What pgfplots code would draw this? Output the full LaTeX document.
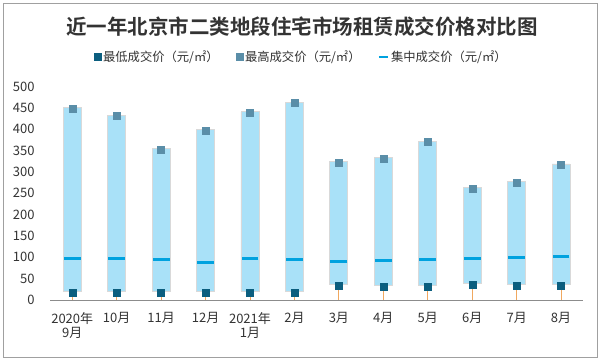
\documentclass[border=0pt]{standalone}
\usepackage{fontspec}
\setmainfont{Noto Sans CJK SC}[BoldFont={Noto Sans CJK SC Bold}]
\usepackage{pgfplots}
\usepackage{pgfplotstable}
\pgfplotsset{compat=1.18}
\definecolor{barblue}{HTML}{A9E1F8}
\definecolor{bargray}{HTML}{D9D9D9}
\definecolor{lowc}{HTML}{0B5E7F}
\definecolor{highc}{HTML}{5A8EA8}
\definecolor{midc}{HTML}{00A2DF}
\definecolor{orangec}{HTML}{F0A860}
\definecolor{axisgray}{HTML}{8C8C8C}
\definecolor{framegray}{HTML}{A0A0A0}
\definecolor{txt}{HTML}{333333}
\pgfplotstableread{
idx low high mid blo bhi
0  18 449 98  21 451
1  18 433 98  21 433
2  18 353 95  21 355
3  18 398 88  20 400
4  18 440 98  20 441
5  18 463 95  21 464
6  34 323 91  37 324
7  31 332 93  34 334
8  31 370 95  34 372
9  37 262 98  40 263
10 34 276 100 37 277
11 34 318 102 37 319
}\data
\pgfplotsset{
  common/.style={
    scale only axis, width=533.3pt, height=213.3pt,
    at={(50pt,62pt)}, anchor=south west,
    xmin=-0.5, xmax=11.5, ymin=0, ymax=500,
  }
}
\begin{document}
\begin{tikzpicture}
\path (0,0) rectangle (602pt,362pt);
\draw[framegray, line width=0.8pt] (3pt,4.7pt) rectangle (597.7pt,359pt);
\node[txt, font=\fontsize{20.5}{24}\selectfont\bfseries] at (302pt,335.5pt) {近一年北京市二类地段住宅市场租赁成交价格对比图};
\begin{axis}[common,
  axis x line=bottom, axis y line=left,
  axis line style={-},
  x axis line style={draw=axisgray, line width=0.9pt},
  y axis line style={draw=none},
  tick style={draw=none}, major tick length=0pt,
  ytick={0,50,...,500},
  xtick={0,...,11},
  xticklabels={{2020年\\9月},10月,11月,12月,{2021年\\1月},2月,3月,4月,5月,6月,7月,8月},
  xticklabel style={align=center, yshift=-9pt, font=\fontsize{13}{14}\selectfont, text=txt},
  yticklabel style={xshift=-12pt, font=\fontsize{13}{14}\selectfont, text=txt},
  /pgf/number format/assume math mode=true,
  ybar stacked, bar width=18pt,
]
\addplot [draw=none, fill=none] table[x=idx, y=blo] {\data};
\addplot [fill=barblue, draw=bargray, line width=0.8pt] table[x=idx, y expr=\thisrow{bhi}-\thisrow{blo}] {\data};
\end{axis}
\begin{axis}[common, hide axis, clip=false,
  legend columns=3,
  legend style={draw=none, fill=none, at={(0.471,1.139)}, anchor=center,
    font=\fontsize{12.3}{13}\selectfont, text=txt,
    /tikz/every even column/.append style={column sep=15pt},
    legend cell align=left},
]
\addplot [ycomb, draw=orangec, line width=0.8pt, forget plot] table[x=idx, y=low] {\data};
\addplot [only marks, mark=square*, mark size=3.5pt, mark options={fill=lowc, draw=lowc},
  legend image code/.code={\fill[lowc] (0pt,-3.5pt) rectangle (7pt,3.5pt);}] table[x=idx, y=low] {\data};
\addlegendentry{最低成交价（元/㎡）}
\addplot [only marks, mark=square*, mark size=3.5pt, mark options={fill=highc, draw=highc},
  legend image code/.code={\fill[highc] (0pt,-3.5pt) rectangle (7pt,3.5pt);}] table[x=idx, y=high] {\data};
\addlegendentry{最高成交价（元/㎡）}
\addplot [only marks, mark=-, mark size=8.4pt, mark options={draw=midc, line width=2.7pt},
  legend image code/.code={\draw[midc, line width=2.5pt] (0pt,0pt) -- (9pt,0pt);}] table[x=idx, y=mid] {\data};
\addlegendentry{集中成交价（元/㎡）}
\end{axis}
\end{tikzpicture}
\end{document}
